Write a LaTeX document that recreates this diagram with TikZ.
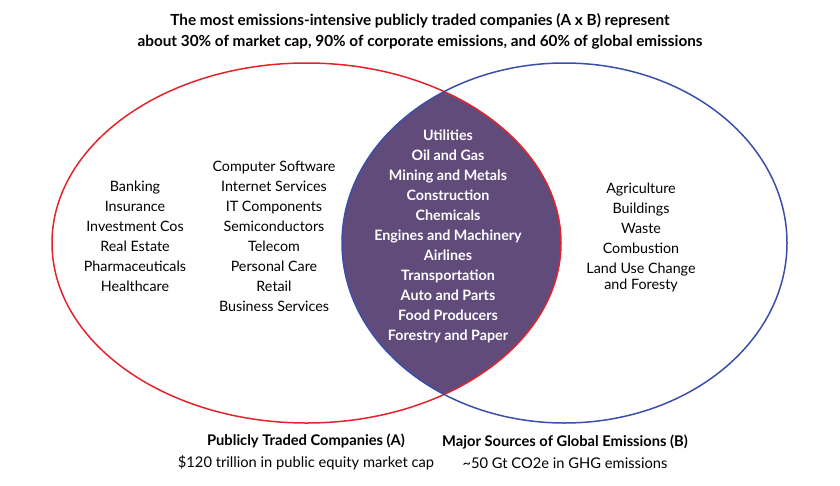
\documentclass[tikz,border=0pt]{standalone}
\usepackage{fontspec}
\setmainfont{Lato}
\definecolor{setred}{HTML}{E3232C}
\definecolor{setblue}{HTML}{3A4FA9}
\definecolor{lens}{HTML}{614B7B}
\tikzset{
  sector/.style={align=center, font=\fontsize{14.3}{20}\selectfont},
  caption/.style={align=center, font=\fontsize{14.7}{22}\selectfont},
}
\begin{document}
\begin{tikzpicture}[x=1pt,y=-1pt]
    \useasboundingbox (0,0) rectangle (840,485);
    \begin{scope}
      \clip (306.5,243) ellipse [x radius=254.5, y radius=180];
      \fill[lens] (564.5,243) ellipse [x radius=222.5, y radius=180];
    \end{scope}
    \draw[setred, line width=1.5pt] (306.5,243) ellipse [x radius=254.5, y radius=180];
    \draw[setblue, line width=1.5pt] (564.5,243) ellipse [x radius=222.5, y radius=180];
    \node (title) [align=center, font=\fontsize{15.3}{21}\selectfont\bfseries] at (420,31.5)
      {The most emissions-intensive publicly traded companies (A x B) represent\\
       about 30\% of market cap, 90\% of corporate emissions, and 60\% of global emissions};
    \node (finance) [sector] at (135,236)
      {Banking\\Insurance\\Investment Cos\\Real Estate\\Pharmaceuticals\\Healthcare};
    \node (tech) [sector] at (274,236)
      {Computer Software\\Internet Services\\IT Components\\Semiconductors\\Telecom\\Personal Care\\Retail\\Business Services};
    \node (heavy) [sector, text=white, font=\fontsize{14.3}{20}\selectfont\bfseries] at (448,236)
      {Utilities\\Oil and Gas\\Mining and Metals\\Construction\\Chemicals\\Engines and Machinery\\Airlines\\Transportation\\Auto and Parts\\Food Producers\\Forestry and Paper};
    \node (sources) [sector] at (641,237)
      {Agriculture\\Buildings\\Waste\\Combustion\\Land Use Change\\[-4pt]and Foresty};
    \node (setA) [caption] at (306,452)
      {\textbf{Publicly Traded Companies (A)}\\\$120 trillion in public equity market cap};
    \node (setB) [caption] at (565,452)
      {\textbf{Major Sources of Global Emissions (B)}\\\textasciitilde50 Gt CO2e in GHG emissions};
  \end{tikzpicture}
\end{document}
